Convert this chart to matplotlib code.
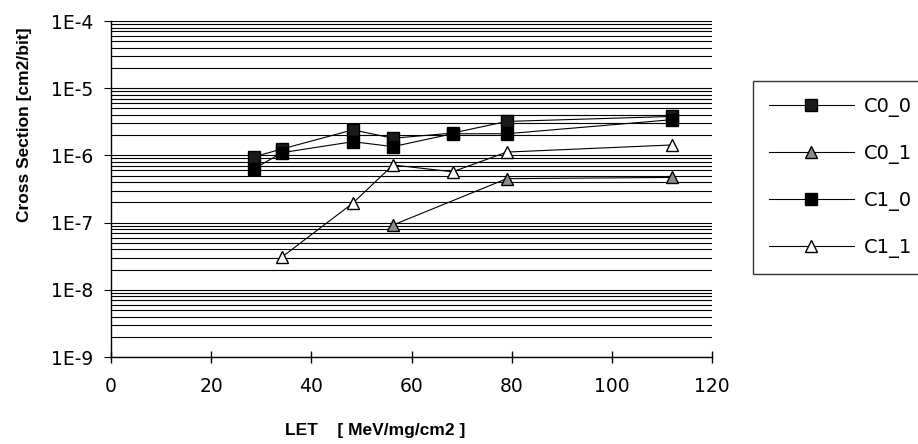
import matplotlib
matplotlib.use("Agg")
import matplotlib.pyplot as plt
from matplotlib.ticker import FixedLocator, NullLocator, NullFormatter

# ---- data ----
let_sq = [28.5, 34.2, 48.3, 56.3, 68.2, 79.0, 112.0]
c0_0 = [9.5e-7, 1.25e-6, 2.4e-6, 1.8e-6, 2.15e-6, 3.2e-6, 3.8e-6]
c1_0 = [6.3e-7, 1.1e-6, 1.6e-6, 1.35e-6, 2.1e-6, 2.1e-6, 3.4e-6]
let_c0_1 = [56.3, 79.0, 112.0]
c0_1 = [9.2e-8, 4.5e-7, 4.7e-7]
let_c1_1 = [34.2, 48.3, 56.3, 68.2, 79.0, 112.0]
c1_1 = [3.1e-8, 1.95e-7, 7.2e-7, 5.7e-7, 1.12e-6, 1.43e-6]

xticks = [0, 20, 40, 60, 80, 100, 120]
yticks = [1e-9, 1e-8, 1e-7, 1e-6, 1e-5, 1e-4]
ytick_labels = ["1E-9", "1E-8", "1E-7", "1E-6", "1E-5", "1E-4"]

W, H = 918, 444
fig = plt.figure(figsize=(W / 100, H / 100), dpi=100)
ax = fig.add_axes([111 / W, 1 - 357 / H, (712 - 111) / W, (357 - 21) / H])

ax.set_yscale("log")
ax.set_xlim(0, 120)
ax.set_ylim(1e-9, 1e-4)

# gridlines at every decade and intermediate value
grid_vals = []
for e in range(-9, -4):
    for m in range(1, 10):
        grid_vals.append(m * 10.0 ** e)
grid_vals.append(1e-4)
for g in grid_vals:
    ax.axhline(g, color="black", lw=0.8, zorder=1)

lw = 0.8
ax.plot(let_sq, c0_0, color="black", lw=lw, marker="s", ms=8,
        mfc="#1a1a1a", mec="black", label="C0_0", zorder=3)
ax.plot(let_c0_1, c0_1, color="black", lw=lw, marker="^", ms=8.5,
        mfc="#8c8c8c", mec="black", label="C0_1", zorder=3)
ax.plot(let_sq, c1_0, color="black", lw=lw, marker="s", ms=8,
        mfc="black", mec="black", label="C1_0", zorder=3)
ax.plot(let_c1_1, c1_1, color="black", lw=lw, marker="^", ms=8.5,
        mfc="white", mec="black", label="C1_1", zorder=3)

for s in ["top", "right"]:
    ax.spines[s].set_visible(False)
ax.spines["left"].set_linewidth(1.0)
ax.spines["bottom"].set_linewidth(1.0)

ax.xaxis.set_major_locator(FixedLocator(xticks))
ax.set_xticklabels([str(v) for v in xticks], fontsize=13.5, family="DejaVu Sans")
ax.tick_params(axis="x", direction="inout", length=9, width=1, pad=10)

ax.yaxis.set_major_locator(FixedLocator(yticks))
ax.yaxis.set_minor_locator(NullLocator())
ax.yaxis.set_minor_formatter(NullFormatter())
ax.set_yticklabels(ytick_labels, fontsize=13.5, family="DejaVu Sans")
ax.tick_params(axis="y", direction="out", length=5, width=0.8, pad=8)

fig.text(25 / W, 1 - 125 / H, "Cross Section [cm2/bit]", rotation=90,
         ha="center", va="center", fontsize=12.5, fontweight="bold",
         family="Liberation Sans")
fig.text(375 / W, 1 - 430 / H, "LET    [ MeV/mg/cm2 ]",
         ha="center", va="center", fontsize=12.5, fontweight="bold",
         family="Liberation Sans")

leg = fig.legend(loc="upper left", bbox_to_anchor=(753 / W, 1 - 81 / H),
                 bbox_transform=fig.transFigure, borderaxespad=0,
                 frameon=True, fancybox=False, shadow=False,
                 prop={"family": "DejaVu Sans", "size": 14},
                 handlelength=4.4, handletextpad=0.5, labelspacing=1.4,
                 borderpad=0.8)
leg.get_frame().set_edgecolor("black")
leg.get_frame().set_linewidth(1.0)

fig.savefig("out.png", dpi=100)
